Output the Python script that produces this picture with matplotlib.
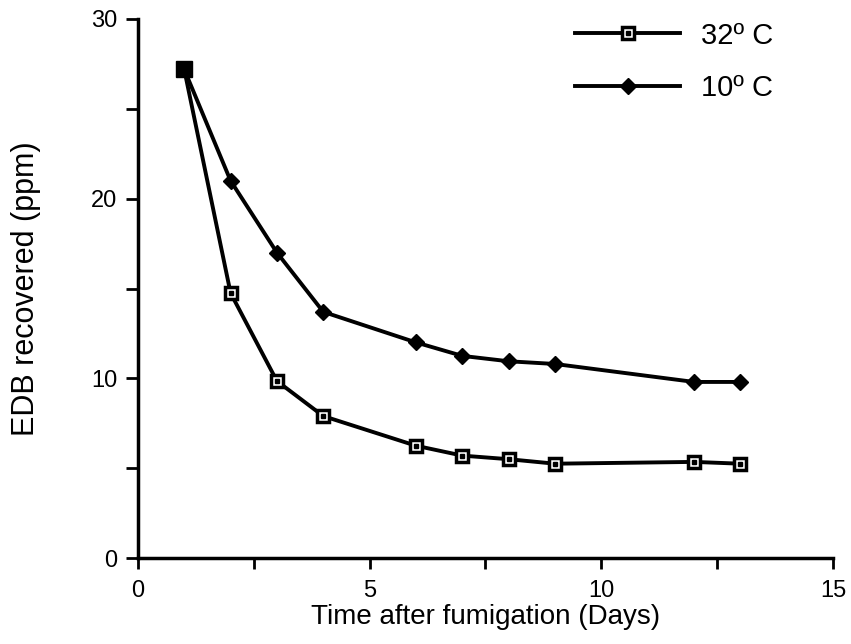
import matplotlib
matplotlib.use("Agg")
import matplotlib.pyplot as plt
from matplotlib.lines import Line2D
from matplotlib.legend_handler import HandlerTuple

plt.rcParams['font.family'] = ['Liberation Sans', 'DejaVu Sans']
plt.rcParams['xtick.labelsize'] = 17
plt.rcParams['ytick.labelsize'] = 17

days = [1, 2, 3, 4, 6, 7, 8, 9, 12, 13]
edb_32 = [27.2, 14.75, 9.85, 7.9, 6.25, 5.7, 5.5, 5.25, 5.35, 5.25]
edb_10 = [27.2, 21.0, 17.0, 13.7, 12.0, 11.25, 10.95, 10.8, 9.8, 9.8]
labels = ["32º C", "10º C"]

fig = plt.figure(figsize=(8.51, 6.44), dpi=100)
ax = fig.add_axes([0.162, 0.1335, 0.817, 0.837])

lw = 2.8
ax.plot(days, edb_10, color='black', lw=lw, marker='D', ms=8.5, mfc='black', mec='black', zorder=3)
ax.plot(days, edb_32, color='black', lw=lw, marker='s', ms=9, mfc='white', mec='black', mew=2.5, zorder=4)
ax.plot(days, edb_32, linestyle='none', marker='s', ms=2.5, mfc='black', mec='black', zorder=5)
ax.plot(days[:1], edb_32[:1], linestyle='none', marker='s', ms=11, mfc='black', mec='black', zorder=6)

ax.set_xlim(0, 15)
ax.set_ylim(0, 30)
ax.set_xticks([0, 5, 10, 15])
ax.set_xticks([2.5, 7.5, 12.5], minor=True)
ax.set_yticks([0, 10, 20, 30])
ax.set_yticks([5, 15, 25], minor=True)
ax.tick_params(which='both', direction='out', width=2)
ax.tick_params(axis='y', which='both', length=9, pad=6)
ax.tick_params(axis='x', which='both', length=8, pad=8)
for s in ['top', 'right']:
    ax.spines[s].set_visible(False)
for s in ['left', 'bottom']:
    ax.spines[s].set_linewidth(2.5)

ax.set_xlabel("Time after fumigation (Days)", fontsize=20, labelpad=1)
ax.set_ylabel("EDB recovered (ppm)", fontsize=22, labelpad=36)

h32 = (Line2D([], [], color='black', lw=lw, marker='s', ms=9, mfc='white', mec='black', mew=2.5),
       Line2D([], [], linestyle='none', marker='s', ms=2.5, mfc='black', mec='black'))
h10 = Line2D([], [], color='black', lw=lw, marker='D', ms=8.5, mfc='black', mec='black')
ax.legend([h32, h10], labels, handler_map={tuple: HandlerTuple(ndivide=1, pad=0)},
          loc='upper left', bbox_to_anchor=(0.629, 0.995), borderpad=0, borderaxespad=0,
          frameon=False, fontsize=21, handlelength=3.6, handletextpad=0.7, labelspacing=0.85)

fig.savefig("out.png", dpi=100, facecolor='white')
